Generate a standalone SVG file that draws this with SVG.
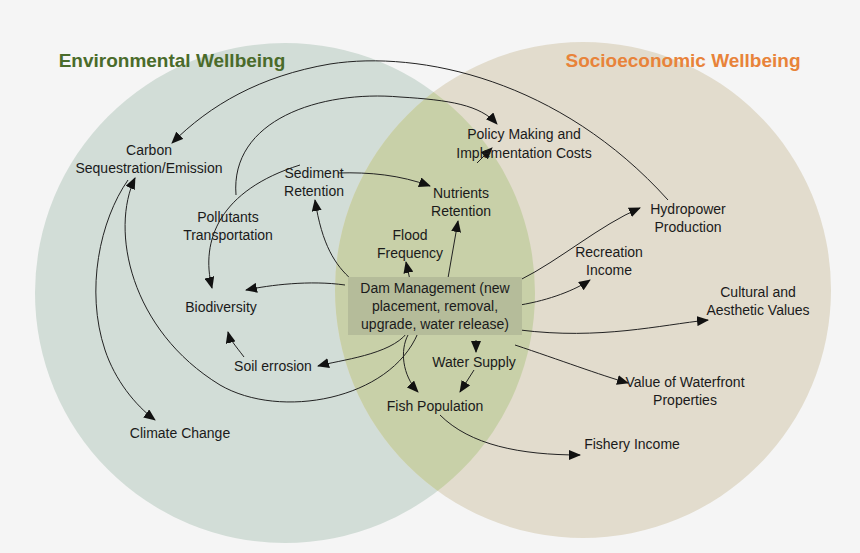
<svg xmlns="http://www.w3.org/2000/svg" width="860" height="553" viewBox="0 0 860 553">
<style>
text{font-family:"Liberation Sans",Arial,sans-serif;font-size:14px;fill:#1a1a1a;text-anchor:middle}
.t{font-size:19px;font-weight:bold}
.c path{fill:none;stroke:#222;stroke-width:1;marker-end:url(#a)}
</style>
<defs>
<marker id="a" markerWidth="12" markerHeight="10" refX="11" refY="5" orient="auto" markerUnits="userSpaceOnUse"><path d="M0,0 L12,5 L0,10 Z" fill="#111"/></marker>
<clipPath id="cl"><circle cx="285" cy="293" r="250"/></clipPath>
</defs>
<rect width="860" height="553" fill="#f5f5f5"/>
<g id="venn">
<circle cx="285" cy="293" r="250" fill="#d2ddd7"/>
<circle cx="583" cy="290" r="248" fill="#e2dccd"/>
<circle cx="583" cy="290" r="248" fill="#c8d0a8" clip-path="url(#cl)"/>
</g>
<text class="t" x="172" y="67" style="fill:#4a6b2a">Environmental Wellbeing</text>
<text class="t" x="683" y="67" style="fill:#e8833a">Socioeconomic Wellbeing</text>
<g class="c" id="connectors">
<path d="M668,200 C560,80 420,50 330,64 C260,76 210,105 172,143"/>
<path d="M236,195 C230,120 320,90 400,97 C450,100 480,105 497,124"/>
<path d="M338,173 C370,172 400,175 430,186"/>
<path d="M477,163 L492,148"/>
<path d="M448,278 L458,221"/>
<path d="M410,280 L406,262"/>
<path d="M352,280 C335,265 322,245 315,200"/>
<path d="M345,285 C310,280 270,285 246,290"/>
<path d="M520,280 C560,260 600,225 640,208"/>
<path d="M520,305 C550,300 575,290 590,280"/>
<path d="M520,330 C600,340 660,325 708,320"/>
<path d="M515,345 C560,360 600,375 628,383"/>
<path d="M476,340 L476,352"/>
<path d="M474,370 L460,392"/>
<path d="M408,335 C400,350 402,375 418,392"/>
<path d="M407,333 C390,355 340,360 318,366"/>
<path d="M244,357 C235,345 230,340 228,332"/>
<path d="M418,333 C390,400 280,420 220,385 C130,330 110,230 135,178"/>
<path d="M128,180 C100,220 85,290 105,350 C115,380 135,405 155,420"/>
<path d="M300,165 C220,190 200,240 212,288"/>
<path d="M440,415 C470,445 520,455 580,455"/>
</g>
<g id="dam"><rect x="348" y="277" width="174" height="58" fill="#b5bc9a"/>
<text x="435" y="293">Dam Management (new</text><text x="435" y="311">placement, removal,</text><text x="435" y="329">upgrade, water release)</text></g>
<g id="carbon"><text x="149" y="155">Carbon</text><text x="149" y="173">Sequestration/Emission</text></g>
<g id="policy"><text x="524" y="139">Policy Making and</text><text x="524" y="158">Implementation Costs</text></g>
<g id="sediment"><text x="314" y="178">Sediment</text><text x="314" y="196">Retention</text></g>
<g id="nutrients"><text x="461" y="198">Nutrients</text><text x="461" y="216">Retention</text></g>
<g id="pollutants"><text x="228" y="222">Pollutants</text><text x="228" y="240">Transportation</text></g>
<g id="flood"><text x="410" y="240">Flood</text><text x="410" y="258">Frequency</text></g>
<g id="hydro"><text x="688" y="214">Hydropower</text><text x="688" y="232">Production</text></g>
<g id="recreation"><text x="609" y="257">Recreation</text><text x="609" y="275">Income</text></g>
<g id="cultural"><text x="758" y="297">Cultural and</text><text x="758" y="315">Aesthetic Values</text></g>
<g id="biodiversity"><text x="221" y="312">Biodiversity</text></g>
<g id="soil"><text x="273" y="371">Soil errosion</text></g>
<g id="water"><text x="474" y="367">Water Supply</text></g>
<g id="waterfront"><text x="685" y="387">Value of Waterfront</text><text x="685" y="405">Properties</text></g>
<g id="fish"><text x="435" y="411">Fish Population</text></g>
<g id="fishery"><text x="632" y="449">Fishery Income</text></g>
<g id="climate"><text x="180" y="438">Climate Change</text></g>
</svg>
